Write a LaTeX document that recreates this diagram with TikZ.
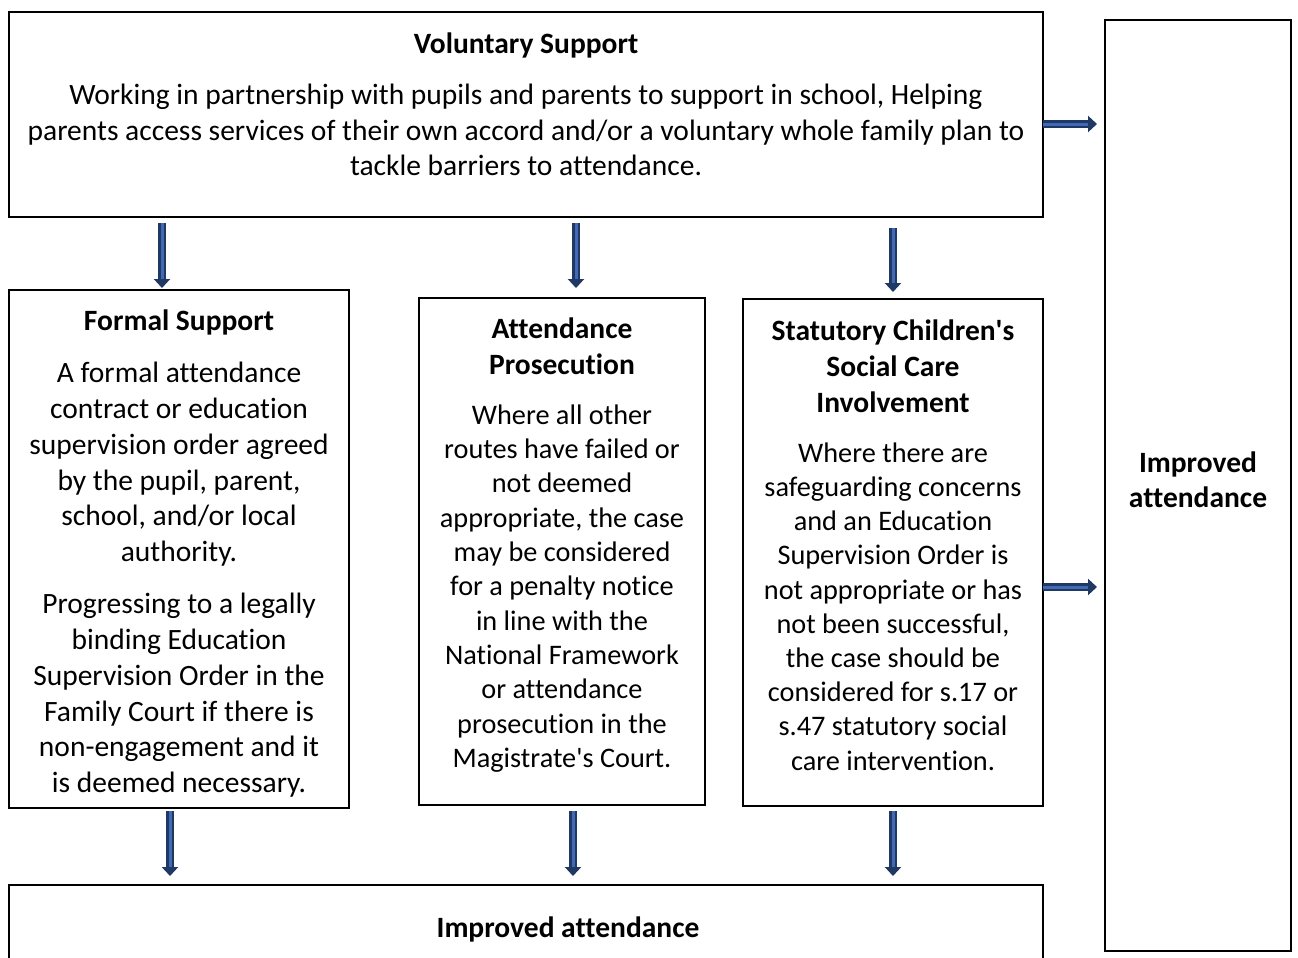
\documentclass[tikz,border=0pt]{standalone}
\usepackage{fontspec}
\setmainfont{Carlito}[Ligatures={TeX,NoCommon}]
\usetikzlibrary{arrows.meta}
\definecolor{arrdark}{HTML}{203864}
\definecolor{arrlight}{HTML}{4169B5}
\tikzset{
  box/.style={draw=black, line width=1.5pt},
  txt/.style={anchor=north, inner sep=0pt, align=center, font=\fontsize{29.5}{35.8}\selectfont},
  ttl/.style={anchor=north, inner sep=0pt, align=center, font=\fontsize{29.5}{36}\selectfont\bfseries},
  arrouter/.style={draw=arrdark, line width=7.5pt, -{Triangle[length=9pt,width=16pt]}},
  arrinner/.style={draw=arrlight, line width=3pt, shorten >=9pt}
}
\newcommand\blockarrow[2]{%
  \draw[arrouter] (#1) -- (#2);
  \draw[arrinner] (#1) -- (#2);}
\newcommand\apos{\textquotesingle}
\begin{document}
\begin{tikzpicture}[x=1pt,y=-1pt]
\useasboundingbox (0,0) rectangle (1298,958);
\fill[white] (0,0) rectangle (1298,958);
% boxes
\draw[box] (9,12) rectangle (1043,217);
\draw[box] (1105,20) rectangle (1291,951);
\draw[box] (9,290) rectangle (349,808);
\draw[box] (419,298) rectangle (705,805);
\draw[box] (743,299) rectangle (1043,806);
\draw[box] (9,885) rectangle (1043,970);
% text
\node[ttl] (volt) at (526,33) {Voluntary Support};
\node[txt, font=\fontsize{29.5}{35.5}\selectfont] (volb) at (526,84) {Working in partnership with pupils and parents to support in school, Helping\\parents access services of their own accord and/or a voluntary whole family plan to\\tackle barriers to attendance.};
\node[ttl] (fst) at (179,310) {Formal Support};
\node[txt] (fsb1) at (179,362) {A formal attendance\\contract or education\\supervision order agreed\\by the pupil, parent,\\school, and/or local\\authority.};
\node[txt] (fsb2) at (179,593) {Progressing to a legally\\binding Education\\Supervision Order in the\\Family Court if there is\\non-engagement and it\\is deemed necessary.};
\node[ttl] (apt) at (562,318) {Attendance\\Prosecution};
\node[txt, font=\fontsize{28.3}{34.3}\selectfont] (apb) at (562,404.5) {Where all other\\routes have failed or\\not deemed\\appropriate, the case\\may be considered\\for a penalty notice\\in line with the\\National Framework\\or attendance\\prosecution in the\\Magistrate\apos s Court.};
\node[ttl] (sct) at (893,320) {Statutory Children\apos s\\Social Care\\Involvement};
\node[txt, font=\fontsize{28.3}{34.2}\selectfont] (scb) at (893,442.5) {Where there are\\safeguarding concerns\\and an Education\\Supervision Order is\\not appropriate or has\\not been successful,\\the case should be\\considered for s.17 or\\s.47 statutory social\\care intervention.};
\node[ttl, font=\fontsize{29.5}{35}\selectfont\bfseries] (iar) at (1198,452) {Improved\\attendance};
\node[ttl] (iab) at (568,917) {Improved attendance};
% arrow endpoints
\coordinate (a1s) at (162,223); \coordinate (a1e) at (162,288);
\coordinate (a2s) at (576,223); \coordinate (a2e) at (576,288);
\coordinate (a3s) at (893,228); \coordinate (a3e) at (893,292);
\coordinate (b1s) at (170,811); \coordinate (b1e) at (170,876);
\coordinate (b2s) at (573,811); \coordinate (b2e) at (573,876);
\coordinate (b3s) at (893,811); \coordinate (b3e) at (893,876);
\coordinate (r1s) at (1043,124); \coordinate (r1e) at (1097,124);
\coordinate (r2s) at (1043,587); \coordinate (r2e) at (1097,587);
\blockarrow{a1s}{a1e}
\blockarrow{a2s}{a2e}
\blockarrow{a3s}{a3e}
\blockarrow{b1s}{b1e}
\blockarrow{b2s}{b2e}
\blockarrow{b3s}{b3e}
\blockarrow{r1s}{r1e}
\blockarrow{r2s}{r2e}
\end{tikzpicture}
\end{document}
